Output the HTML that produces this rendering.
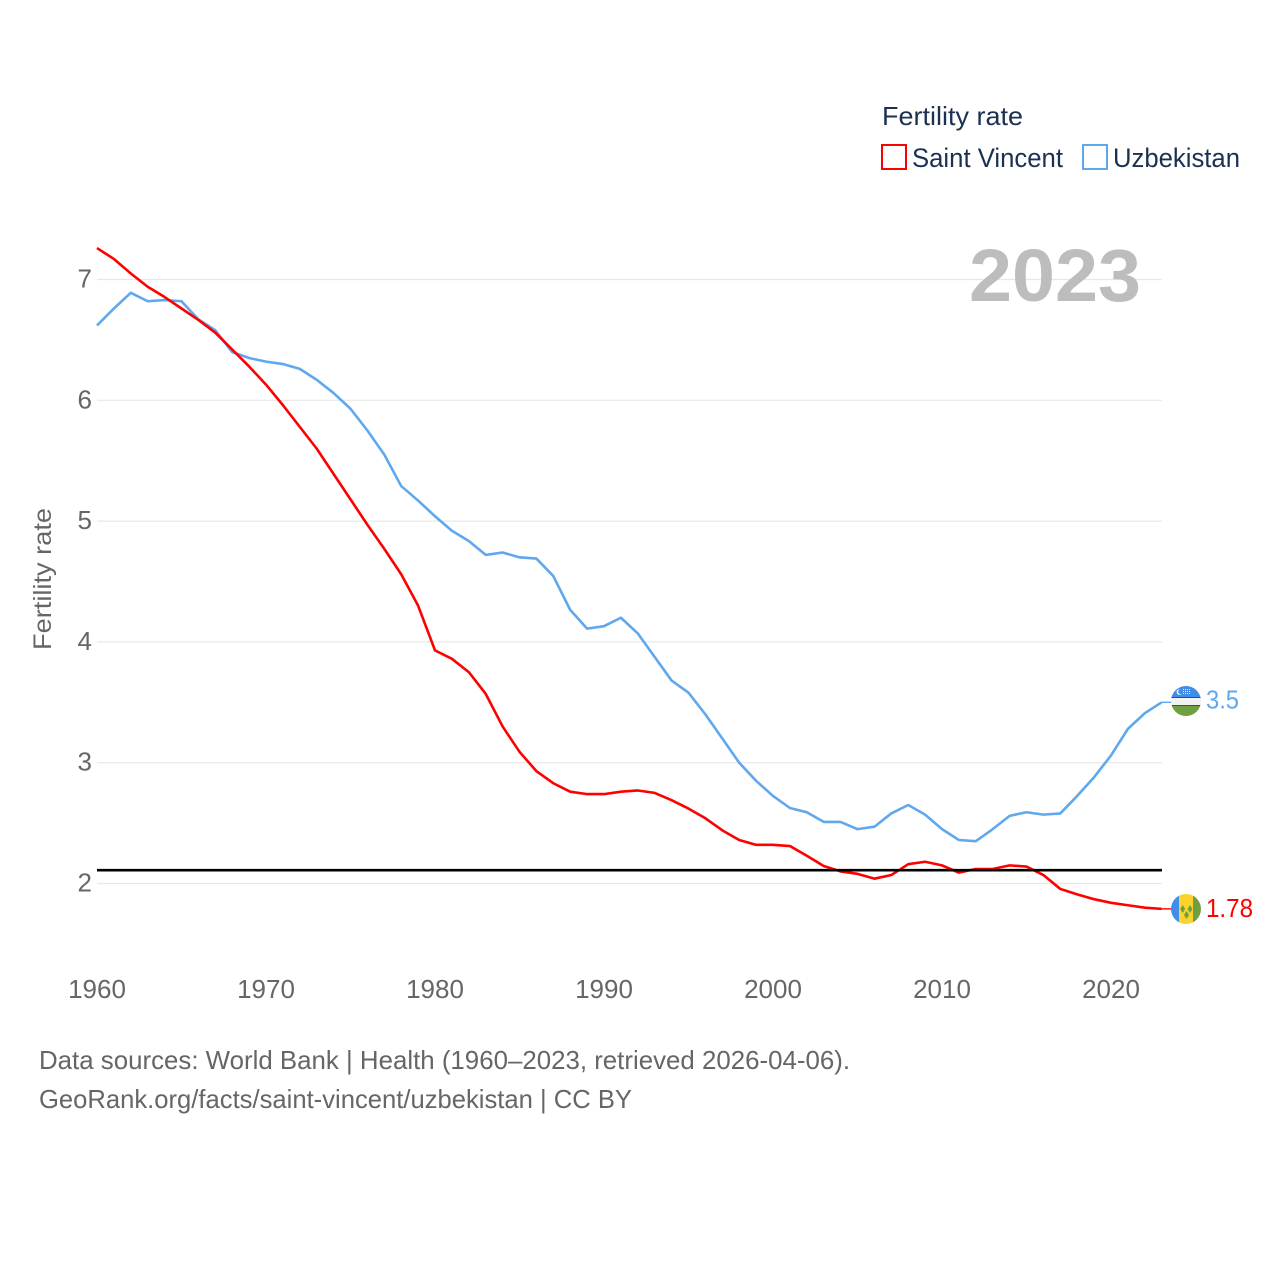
<!DOCTYPE html>
<html lang="en">
<head>
<meta charset="utf-8">
<title>Fertility rate: Saint Vincent and Uzbekistan</title>
<style>
html,body{margin:0;padding:0;background:#fff;width:1280px;height:1280px;overflow:hidden}
svg{display:block}
text{font-family:"Liberation Sans",sans-serif}
</style>
</head>
<body>
<svg id="chart" xmlns="http://www.w3.org/2000/svg" width="1280" height="1280" viewBox="0 0 1280 1280">
  <rect width="1280" height="1280" fill="#fff"/>
  <g id="grid"></g>
  <g id="yticks"></g>
  <g id="xticks"></g>
  <g id="series"></g>

  <text transform="translate(51,650) rotate(-90)" font-size="25" fill="#666" textLength="142" lengthAdjust="spacingAndGlyphs">Fertility rate</text>
  <text x="969" y="301" font-size="74" font-weight="700" fill="#bdbdbd" textLength="172" lengthAdjust="spacingAndGlyphs">2023</text>

  <g>
    <text x="882" y="125" font-size="26" fill="#1a3152" textLength="141" lengthAdjust="spacingAndGlyphs">Fertility rate</text>
    <g>
      <rect x="882" y="145" width="24" height="24" fill="#fff" stroke="#ff0000" stroke-width="2"/>
      <text x="912" y="167" font-size="27" fill="#1a3152" textLength="151" lengthAdjust="spacingAndGlyphs">Saint Vincent</text>
    </g>
    <g>
      <rect x="1083" y="145" width="24" height="24" fill="#fff" stroke="#5fa8ee" stroke-width="2"/>
      <text x="1113" y="167" font-size="27" fill="#1a3152" textLength="127" lengthAdjust="spacingAndGlyphs">Uzbekistan</text>
    </g>
  </g>

  <defs>
    <clipPath id="clip-uz"><circle cx="1186" cy="701" r="15"/></clipPath>
    <clipPath id="clip-vc"><circle cx="1186" cy="909" r="15"/></clipPath>
  </defs>

  <g clip-path="url(#clip-uz)">
    <rect x="1171" y="686" width="30" height="11" fill="#3f8fea"/>
    <rect x="1171" y="697" width="30" height="1" fill="#c8102e"/>
    <rect x="1171" y="698" width="30" height="7" fill="#f2f2f2"/>
    <rect x="1171" y="705" width="30" height="1" fill="#c8102e"/>
    <rect x="1171" y="706" width="30" height="10" fill="#6f9f3e"/>
    <circle cx="1179.500" cy="692" r="2.800" fill="#fff"/>
    <circle cx="1180.700" cy="691.600" r="2.500" fill="#3f8fea"/>
    <path d="M1183 689.500h8M1183 691.500h8M1183 693.500h8" stroke="#dcebfb" stroke-width="1" stroke-dasharray="1 1" fill="none"/>
  </g>

  <g clip-path="url(#clip-vc)">
    <rect x="1171" y="894" width="8" height="30" fill="#3f8fea"/>
    <rect x="1179" y="894" width="14" height="30" fill="#fcd22c"/>
    <rect x="1193" y="894" width="8" height="30" fill="#6f9f3e"/>
    <path d="M1182.700 905l2.500 4-2.500 4-2.500-4zM1190 905l2.500 4-2.500 4-2.500-4zM1186.500 911l2.500 4-2.500 4-2.500-4z" fill="#6f9f3e"/>
  </g>

  <text x="39" y="1069" font-size="26" fill="#666" textLength="811" lengthAdjust="spacingAndGlyphs">Data sources: World Bank | Health (1960–2023, retrieved 2026-04-06).</text>
  <text x="39" y="1108" font-size="26" fill="#666" textLength="593" lengthAdjust="spacingAndGlyphs">GeoRank.org/facts/saint-vincent/uzbekistan | CC BY</text>
</svg>

<script>
const years = [1960,1961,1962,1963,1964,1965,1966,1967,1968,1969,1970,1971,1972,1973,1974,1975,1976,1977,1978,1979,1980,1981,1982,1983,1984,1985,1986,1987,1988,1989,1990,1991,1992,1993,1994,1995,1996,1997,1998,1999,2000,2001,2002,2003,2004,2005,2006,2007,2008,2009,2010,2011,2012,2013,2014,2015,2016,2017,2018,2019,2020,2021,2022,2023];
const saintVincent = [7.26,7.17,7.05,6.94,6.855,6.76,6.665,6.56,6.42,6.28,6.13,5.96,5.78,5.60,5.39,5.18,4.97,4.77,4.56,4.30,3.93,3.86,3.75,3.57,3.30,3.09,2.93,2.83,2.76,2.74,2.74,2.76,2.77,2.75,2.69,2.62,2.54,2.44,2.36,2.32,2.32,2.31,2.23,2.145,2.10,2.08,2.04,2.07,2.16,2.18,2.15,2.09,2.12,2.12,2.15,2.14,2.07,1.955,1.91,1.87,1.84,1.82,1.80,1.79];
const uzbekistan = [6.62,6.76,6.89,6.82,6.83,6.82,6.67,6.58,6.40,6.35,6.32,6.30,6.26,6.17,6.06,5.93,5.75,5.55,5.29,5.17,5.04,4.92,4.835,4.72,4.74,4.70,4.69,4.545,4.265,4.11,4.13,4.20,4.07,3.875,3.68,3.58,3.40,3.20,3.00,2.85,2.725,2.625,2.59,2.51,2.51,2.45,2.47,2.58,2.65,2.57,2.45,2.36,2.35,2.45,2.56,2.59,2.57,2.58,2.725,2.88,3.06,3.28,3.41,3.50];
const replacementRate = [2.11];
const yTickValues = [2,3,4,5,6,7];
const xTickValues = [1960,1970,1980,1990,2000,2010,2020];
const endLabels = ['1.78','3.5'];

const NS = 'http://www.w3.org/2000/svg';
function xScale(year){ return 97 + (year - 1960) * 16.9; }
function yScale(value){ return 883.5 - (value - 2) * 120.8; }
function make(tag, attrs, parent){
  const el = document.createElementNS(NS, tag);
  for (const k in attrs) el.setAttribute(k, attrs[k]);
  parent.appendChild(el);
  return el;
}

const gridG = document.getElementById('grid');
const yG = document.getElementById('yticks');
const xG = document.getElementById('xticks');
const seriesG = document.getElementById('series');

yTickValues.forEach(function(v){
  const line = make('line', {x1:97, x2:1162, y1:yScale(v), y2:yScale(v), stroke:'#e8e8e8', 'stroke-width':1.2}, gridG);
  
  
  const label = make('text', {x:92, y:yScale(v)+8, 'text-anchor':'end', 'font-size':26, fill:'#666'}, yG);
  
  
  label.textContent = String(v);
});

xTickValues.forEach(function(v){
  const label = make('text', {x:xScale(v), y:998, 'text-anchor':'middle', 'font-size':26, fill:'#666'}, xG);
  
  
  label.textContent = String(v);
});

function linePath(values){
  return values.map(function(v,i){
    return (i ? 'L' : 'M') + xScale(years[i]).toFixed(2) + ' ' + yScale(v).toFixed(2);
  }).join('');
}

const blueLine = make('path', {d:linePath(uzbekistan), fill:'none', stroke:'#5fa8ee', 'stroke-width':2.6, 'stroke-linejoin':'round'}, seriesG);



const redLine = make('path', {d:linePath(saintVincent), fill:'none', stroke:'#ff0000', 'stroke-width':2.6, 'stroke-linejoin':'round'}, seriesG);



const refLine = make('line', {x1:97, x2:1162, y1:yScale(replacementRate[0]), y2:yScale(replacementRate[0]), stroke:'#000', 'stroke-width':2.6}, seriesG);



const lastIndex = years.length - 1;
const endX = xScale(years[lastIndex]);

const blueLead = make('line', {x1:endX, x2:1172, y1:yScale(uzbekistan[lastIndex]), y2:yScale(uzbekistan[lastIndex]), stroke:'#5fa8ee', 'stroke-width':1.4}, seriesG);



const redLead = make('line', {x1:endX, x2:1172, y1:yScale(saintVincent[lastIndex]), y2:yScale(saintVincent[lastIndex]), stroke:'#ff0000', 'stroke-width':1.4}, seriesG);



const blueValue = make('text', {x:1206, y:yScale(uzbekistan[lastIndex])+6, 'font-size':26, fill:'#5fa8ee', textLength:33, lengthAdjust:'spacingAndGlyphs'}, seriesG);


blueValue.textContent = endLabels[1];

const redValue = make('text', {x:1206, y:yScale(saintVincent[lastIndex])+8, 'font-size':26, fill:'#ff0000', textLength:47, lengthAdjust:'spacingAndGlyphs'}, seriesG);


redValue.textContent = endLabels[0];
</script>
</body>
</html>
